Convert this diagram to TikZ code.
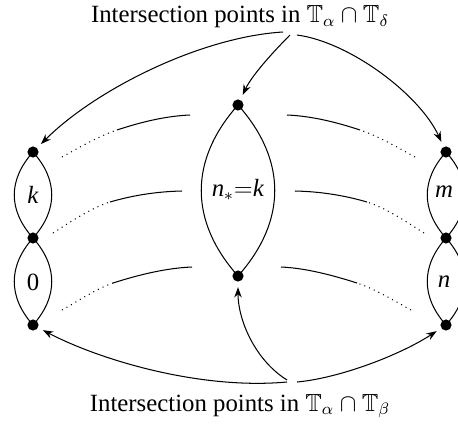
\documentclass[tikz,border=0pt]{standalone}
\usepackage{amssymb}
\usepackage{fontspec}
\setmainfont{Liberation Serif}
\usetikzlibrary{arrows.meta}
\begin{document}
\begin{tikzpicture}[x=0.484pt,y=-0.484pt,
  dot/.style={circle,fill=black,inner sep=0pt,minimum size=5.4pt},
  lbl/.style={inner sep=0pt,font=\fontsize{12}{14}\selectfont},
  lens/.style={line width=0.5pt},
  arc/.style={line width=0.5pt},
  dotarc/.style={line width=0.5pt,dotted},
  arr/.style={line width=0.5pt,-{Stealth[length=5pt,width=3.6pt]},shorten >=2.5pt}]
\useasboundingbox (0,0) rectangle (458,424);
\clip (0,0) rectangle (458,424);
% dots
\node[dot] (L1) at (33,152) {};
\node[dot] (L2) at (33,238) {};
\node[dot] (L3) at (33,325) {};
\node[dot] (M1) at (238,105) {};
\node[dot] (M2) at (238,276) {};
\node[dot] (R1) at (446,152) {};
\node[dot] (R2) at (446,238) {};
\node[dot] (R3) at (446,325) {};
% lenses
\draw[lens] (L1.center) .. controls (8,180) and (8,210) .. (L2.center);
\draw[lens] (L1.center) .. controls (58,180) and (58,210) .. (L2.center);
\draw[lens] (L2.center) .. controls (8,266) and (8,297) .. (L3.center);
\draw[lens] (L2.center) .. controls (58,266) and (58,297) .. (L3.center);
\draw[lens] (M1.center) .. controls (189,160) and (189,221) .. (M2.center);
\draw[lens] (M1.center) .. controls (287,160) and (287,221) .. (M2.center);
\draw[lens] (R1.center) .. controls (421,180) and (421,210) .. (R2.center);
\draw[lens] (R1.center) .. controls (471,180) and (471,210) .. (R2.center);
\draw[lens] (R2.center) .. controls (421,266) and (421,297) .. (R3.center);
\draw[lens] (R2.center) .. controls (471,266) and (471,297) .. (R3.center);
% lens labels
\node[lbl] (lk) at (33,195) {\textit{k}};
\node[lbl] (l0) at (33,282) {0};
\node[lbl] (lm) at (444,192) {\textit{m}};
\node[lbl] (ln) at (444,282) {\textit{n}};
\node[lbl] (lnk) at (238,190) {\textit{n}$_*{=}$\textit{k}};
% connecting arcs (dotted then solid)
\coordinate (a1) at (62,157); \coordinate (b1) at (117,130); \coordinate (c1) at (190,115);
\draw[dotarc] (a1) .. controls (80,147) and (99,136) .. (b1);
\draw[arc] (b1) .. controls (141,122) and (166,116) .. (c1);
\coordinate (a2) at (415,157); \coordinate (b2) at (360,130); \coordinate (c2) at (287,115);
\draw[dotarc] (a2) .. controls (397,147) and (378,136) .. (b2);
\draw[arc] (b2) .. controls (336,122) and (311,116) .. (c2);
\coordinate (a3) at (53,233); \coordinate (b3) at (110,202); \coordinate (c3) at (182,191);
\draw[dotarc] (a3) .. controls (72,221) and (91,208) .. (b3);
\draw[arc] (b3) .. controls (134,195) and (158,191.5) .. (c3);
\coordinate (a4) at (424,233); \coordinate (b4) at (367,202); \coordinate (c4) at (295,191);
\draw[dotarc] (a4) .. controls (405,221) and (386,208) .. (b4);
\draw[arc] (b4) .. controls (343,195) and (319,191.5) .. (c4);
\coordinate (a5) at (62,310); \coordinate (b5) at (113,283); \coordinate (c5) at (192,267);
\draw[dotarc] (a5) .. controls (80,300) and (96,289) .. (b5);
\draw[arc] (b5) .. controls (138,275) and (166,268) .. (c5);
\coordinate (a6) at (411,310); \coordinate (b6) at (357,283); \coordinate (c6) at (281,267);
\draw[dotarc] (a6) .. controls (393,300) and (375,289) .. (b6);
\draw[arc] (b6) .. controls (332,275) and (305,268) .. (c6);
% labels
\node[lbl] (top) at (240,17) {Intersection points in $\mathbb{T}_\alpha\cap\mathbb{T}_\delta$};
\node[lbl] (bot) at (240,406) {Intersection points in $\mathbb{T}_\alpha\cap\mathbb{T}_\beta$};
\coordinate (t1) at (283,32); \coordinate (t2) at (290,35); \coordinate (t3) at (297,35);
\coordinate (s1) at (287,382); \coordinate (s2) at (287,380); \coordinate (s3) at (297,382);
% arrows
\draw[arr] (t1) .. controls (200,37) and (95,90) .. (L1);
\draw[arr] (t2) .. controls (275,50) and (252,75) .. (M1);
\draw[arr] (t3) .. controls (350,42) and (420,95) .. (R1);
\draw[arr] (s1) .. controls (200,390) and (100,360) .. (L3);
\draw[arr] (s2) .. controls (255,360) and (238,320) .. (M2);
\draw[arr] (s3) .. controls (340,378) and (400,355) .. (R3);
\end{tikzpicture}
\end{document}
